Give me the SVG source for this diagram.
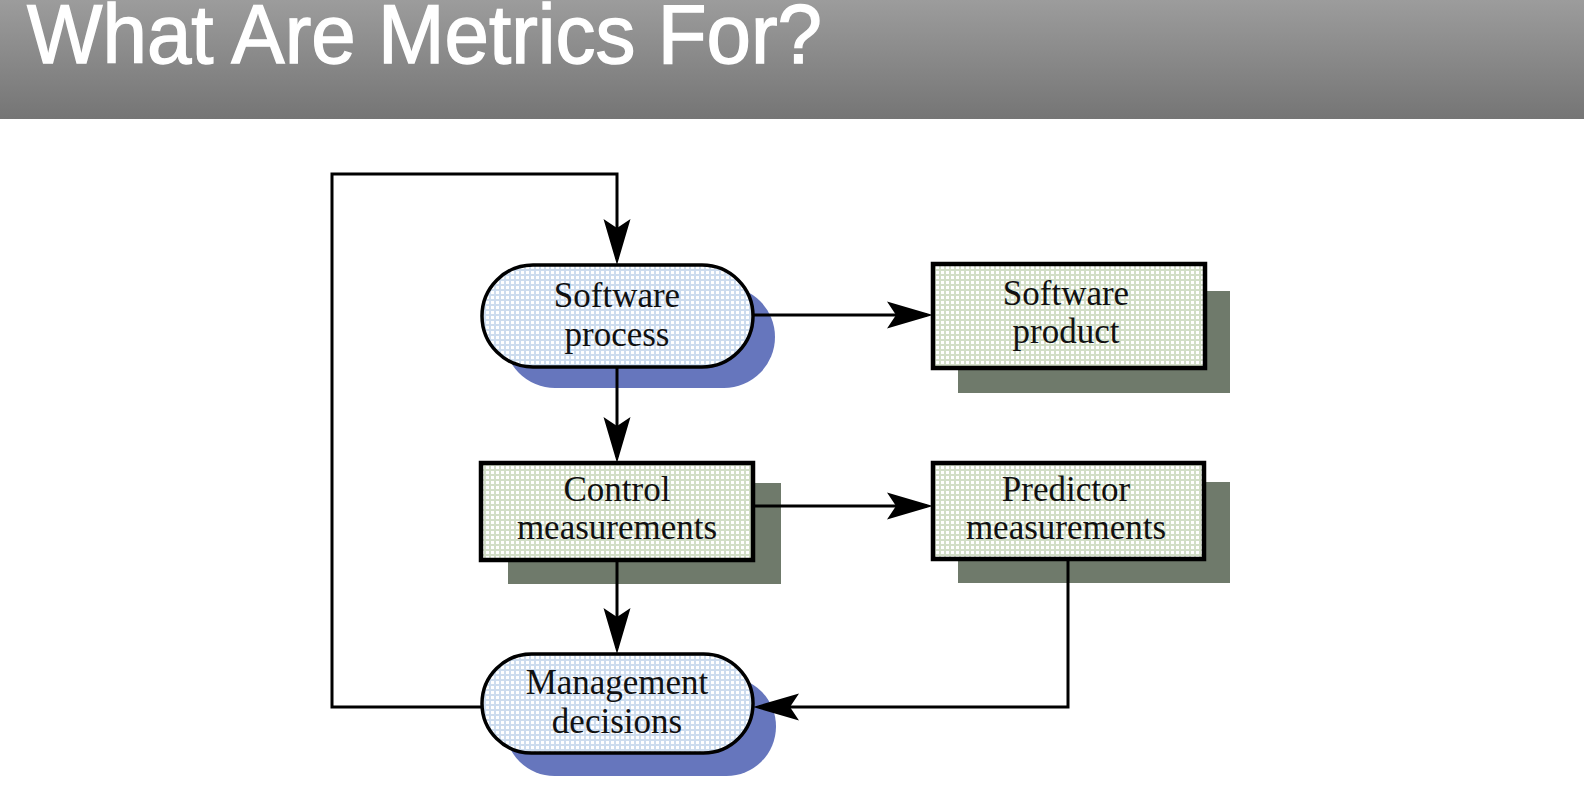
<svg xmlns="http://www.w3.org/2000/svg" width="1584" height="794" viewBox="0 0 1584 794">
<defs>
<linearGradient id="hdr" x1="0" y1="0" x2="0" y2="1">
<stop offset="0" stop-color="#9c9c9c"/>
<stop offset="1" stop-color="#757575"/>
</linearGradient>
<pattern id="dotsGreen" width="5" height="5" patternUnits="userSpaceOnUse">
<rect width="5" height="5" fill="#d2dec7"/>
<rect x="1" y="1" width="3" height="3" fill="#ffffff"/>
</pattern>
<pattern id="dotsBlue" width="5" height="5" patternUnits="userSpaceOnUse">
<rect width="5" height="5" fill="#cddcee"/>
<rect x="1" y="1" width="3" height="3" fill="#ffffff"/>
</pattern>
<marker id="arrow" viewBox="-42 -15 50 30" refX="0" refY="0" markerWidth="50" markerHeight="30" markerUnits="userSpaceOnUse" orient="auto">
<path d="M6,0 L-40,-13.5 L-31,0 L-40,13.5 Z" fill="#000"/>
</marker>
</defs>
<style>
.lbl{font-family:"Liberation Sans",Arial,sans-serif;font-size:35px;fill:#111;text-anchor:middle}
.lbl{font-family:"Liberation Serif","Times New Roman",serif}
.box{fill:url(#dotsGreen);stroke:#000;stroke-width:4.5}
.term{fill:url(#dotsBlue);stroke:#000;stroke-width:3.5}
.shBox{fill:#6f7a6b}
.shTerm{fill:#6676bd}
.conn{fill:none;stroke:#000;stroke-width:3}
</style>

<g id="header">
<rect x="0" y="0" width="1584" height="119" fill="url(#hdr)"/>
<text x="27" y="63" font-family="'Liberation Sans',Arial,sans-serif" font-size="84" fill="#fff" stroke="#fff" stroke-width="1.4" textLength="795" lengthAdjust="spacingAndGlyphs">What Are Metrics For?</text>
</g>

<g id="software-process">
<rect class="shTerm" x="504" y="286" width="271" height="102" rx="51"/>
<rect class="term" x="482" y="265" width="271" height="102" rx="51"/>
<text class="lbl" x="617" y="307">Software</text>
<text class="lbl" x="617" y="346">process</text>
</g>

<g id="software-product">
<rect class="shBox" x="958" y="291" width="272" height="102"/>
<rect class="box" x="933" y="264" width="272" height="104"/>
<text class="lbl" x="1066" y="305">Software</text>
<text class="lbl" x="1066" y="343">product</text>
</g>

<g id="control-measurements">
<rect class="shBox" x="508" y="483" width="273" height="101"/>
<rect class="box" x="481" y="463" width="272" height="97"/>
<text class="lbl" x="617" y="501">Control</text>
<text class="lbl" x="617" y="539">measurements</text>
</g>

<g id="predictor-measurements">
<rect class="shBox" x="958" y="482" width="272" height="101"/>
<rect class="box" x="933" y="463" width="271" height="96"/>
<text class="lbl" x="1066" y="501">Predictor</text>
<text class="lbl" x="1066" y="539">measurements</text>
</g>

<g id="management-decisions">
<rect class="shTerm" x="505" y="677" width="271" height="99" rx="49.5"/>
<rect class="term" x="482" y="654" width="271" height="99" rx="49.5"/>
<text class="lbl" x="617" y="694">Management</text>
<text class="lbl" x="617" y="733">decisions</text>
</g>

<g id="connectors">
<path class="conn" d="M482,707 H332 V174 H617 V259" marker-end="url(#arrow)"/>
<path class="conn" d="M617,367 V457" marker-end="url(#arrow)"/>
<path class="conn" d="M617,560 V648" marker-end="url(#arrow)"/>
<path class="conn" d="M753,315 H927" marker-end="url(#arrow)"/>
<path class="conn" d="M753,506 H927" marker-end="url(#arrow)"/>
<path class="conn" d="M1068,559 V707 H759" marker-end="url(#arrow)"/>
</g>
</svg>
